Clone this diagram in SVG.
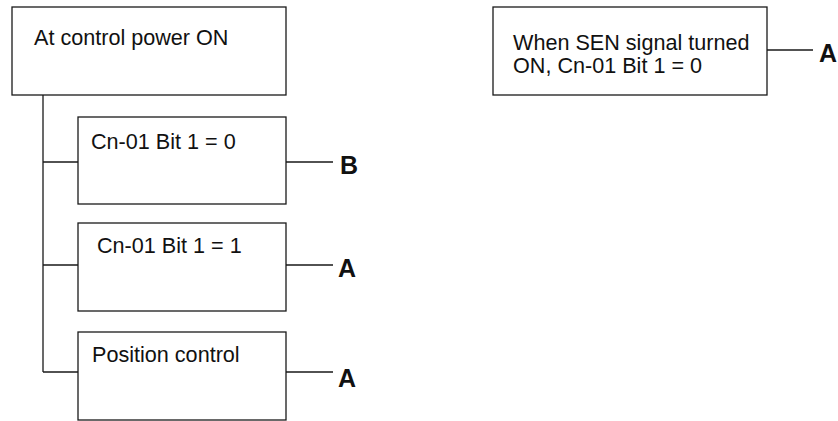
<svg xmlns="http://www.w3.org/2000/svg" width="838" height="421" viewBox="0 0 838 421">
<style>
.box{fill:#fff;stroke:#1a1a1a;stroke-width:1.3}
.ln{stroke:#1a1a1a;stroke-width:1.3;fill:none}
.t{font-family:"Liberation Sans",Arial,sans-serif;font-size:21.6px;fill:#111}
.lb{font-family:"Liberation Sans",Arial,sans-serif;font-size:25px;font-weight:bold;fill:#111}
</style>
<rect width="838" height="421" fill="#fff"/>
<g id="connectors">
<path class="ln" d="M43 95 V372 M43 162 H78 M43 265 H78 M43 372 H78"/>
<path class="ln" d="M286 162 H333 M286 265 H333 M286 372 H333 M767 50 H813"/>
</g>
<g id="power-on">
<rect class="box" x="12" y="7" width="274" height="88"/>
<text class="t" x="34" y="45">At control power ON</text>
</g>
<g id="bit0">
<rect class="box" x="78" y="117" width="208" height="87"/>
<text class="t" x="91" y="149">Cn-01 Bit 1 = 0</text>
</g>
<g id="bit1">
<rect class="box" x="78" y="223" width="208" height="88"/>
<text class="t" x="97" y="253">Cn-01 Bit 1 = 1</text>
</g>
<g id="position">
<rect class="box" x="78" y="332" width="208" height="88"/>
<text class="t" x="92" y="362">Position control</text>
</g>
<g id="sen">
<rect class="box" x="493" y="7" width="274" height="88"/>
<text class="t" x="513" y="50">When SEN signal turned</text>
<text class="t" x="513" y="73">ON, Cn-01 Bit 1 = 0</text>
</g>
<g id="labels">
<text class="lb" x="340" y="174">B</text>
<text class="lb" x="338" y="277">A</text>
<text class="lb" x="338" y="387">A</text>
<text class="lb" x="819" y="62">A</text>
</g>
</svg>
